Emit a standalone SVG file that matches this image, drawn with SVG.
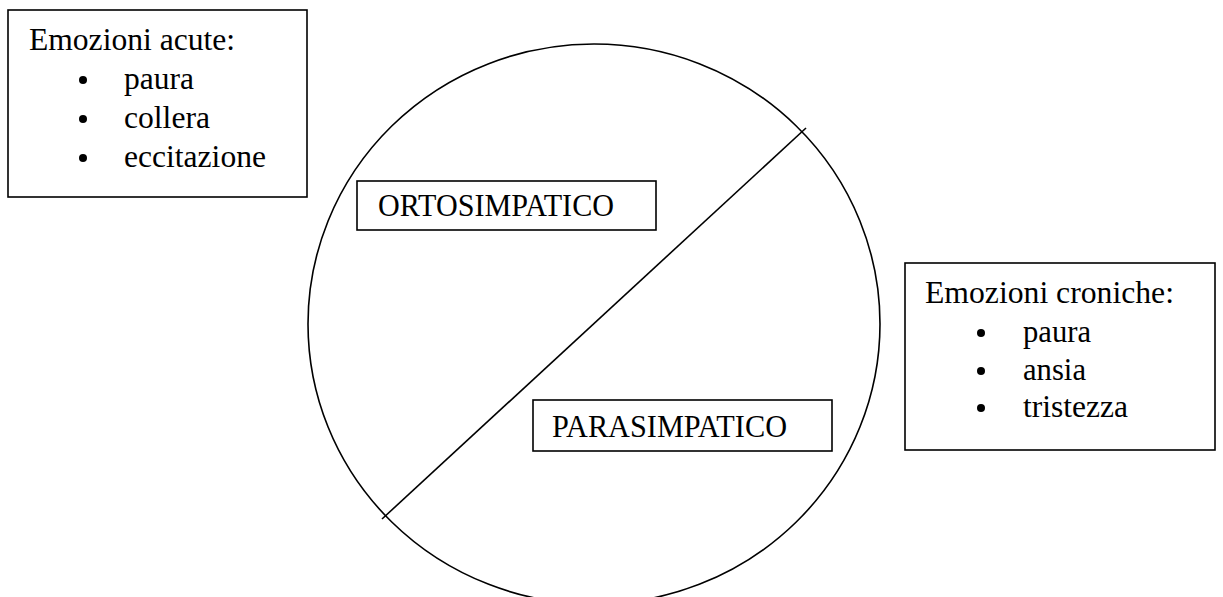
<svg xmlns="http://www.w3.org/2000/svg" width="1223" height="597" viewBox="0 0 1223 597">
<style>
.box{fill:#fff;stroke:#000;stroke-width:1.6}
.ln{fill:none;stroke:#000;stroke-width:1.6}
.t{font-family:"Liberation Serif","Times New Roman",serif;font-size:31px;fill:#000}
.b{fill:#000}
</style>
<rect width="1223" height="597" fill="#fff"/>
<g id="connectors">
<ellipse class="ln" cx="594" cy="324" rx="286" ry="280"/>
<line class="ln" x1="382" y1="519" x2="806" y2="128"/>
</g>
<g id="acute">
<rect class="box" x="8" y="10" width="299" height="187"/>
<text class="t" x="29" y="50" textLength="206" lengthAdjust="spacingAndGlyphs">Emozioni acute:</text>
<circle class="b" cx="83" cy="80" r="4"/>
<text class="t" x="124" y="89" textLength="70" lengthAdjust="spacingAndGlyphs">paura</text>
<circle class="b" cx="83" cy="119" r="4"/>
<text class="t" x="124" y="128" textLength="86" lengthAdjust="spacingAndGlyphs">collera</text>
<circle class="b" cx="83" cy="158" r="4"/>
<text class="t" x="124" y="167" textLength="142" lengthAdjust="spacingAndGlyphs">eccitazione</text>
</g>
<g id="ortosimpatico">
<rect class="box" x="357" y="181" width="299" height="49"/>
<text class="t" x="378" y="216" textLength="236" lengthAdjust="spacingAndGlyphs">ORTOSIMPATICO</text>
</g>
<g id="parasimpatico">
<rect class="box" x="533" y="400" width="299" height="51"/>
<text class="t" x="552" y="437" textLength="235" lengthAdjust="spacingAndGlyphs">PARASIMPATICO</text>
</g>
<g id="croniche">
<rect class="box" x="905" y="263" width="310" height="187"/>
<text class="t" x="925" y="303" textLength="249" lengthAdjust="spacingAndGlyphs">Emozioni croniche:</text>
<circle class="b" cx="981" cy="333" r="4"/>
<text class="t" x="1023" y="342" textLength="68" lengthAdjust="spacingAndGlyphs">paura</text>
<circle class="b" cx="981" cy="371" r="4"/>
<text class="t" x="1023" y="380" textLength="63" lengthAdjust="spacingAndGlyphs">ansia</text>
<circle class="b" cx="981" cy="408" r="4"/>
<text class="t" x="1023" y="417" textLength="105" lengthAdjust="spacingAndGlyphs">tristezza</text>
</g>
</svg>
